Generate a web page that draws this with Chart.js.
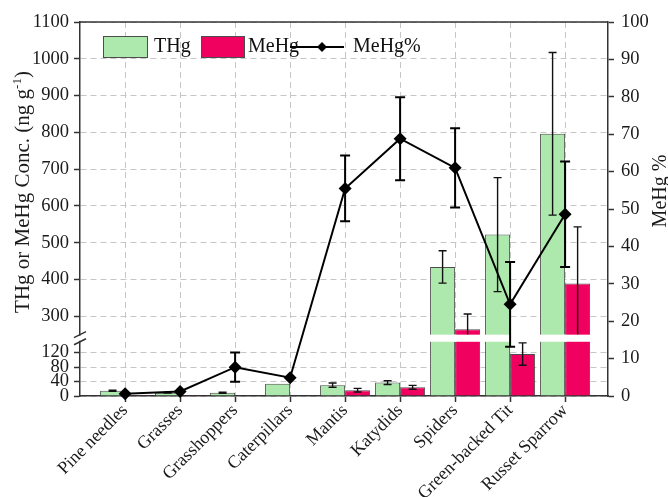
<!DOCTYPE html>
<html lang="en">
<head>
    <meta charset="UTF-8">
    <title>THg and MeHg along the food chain</title>
    <script src="https://cdn.jsdelivr.net/npm/chart.js"></script>
    <style>
        html, body {
            margin: 0;
            padding: 0;
            background: #fff;
        }
        canvas {
            display: block;
        }
    </style>
</head>
<body>
    <canvas id="hgChart" width="668" height="497"></canvas>
    <script>
        const categories = ['Pine needles', 'Grasses', 'Grasshoppers', 'Caterpillars', 'Mantis',
            'Katydids', 'Spiders', 'Green-backed Tit', 'Russet Sparrow'];

        // concentrations, ng g-1 (mean and SD)
        const thg = [14.5, 9, 9, 34, 30, 37, 434, 522, 796];
        const thgErr = [1.5, 0.5, 1.5, 0, 6, 5, 44, 155, 221];
        const mehg = [0.5, 0.5, 0.8, 2, 16, 24, 265, 116, 389];
        const mehgErr = [0, 0, 0, 0, 5, 5.5, 41, 31, 154];

        // MeHg as percent of THg
        const mehgPct = [0.6, 1.2, 7.7, 4.9, 55.5, 68.8, 61, 24.5, 48.6];
        const mehgPctErr = [0, 0, 3.9, 0, 8.8, 11.1, 10.6, 11.3, 14.1];

        const leftTicks = [0, 40, 80, 120, 300, 400, 500, 600, 700, 800, 900, 1000, 1100];

        // broken left axis: 0-150 below the break, 250-1100 above it
        const LOW_MAX = 150, HIGH_MIN = 250, TOP = 1100;
        const F_LOW = 0.145, F_GAP = 0.019, F_HIGH = 1 - F_LOW - F_GAP;

        function toDecimal(v) {
            if (v <= LOW_MAX) return v / LOW_MAX * F_LOW;
            if (v < HIGH_MIN) return F_LOW + (v - LOW_MAX) / (HIGH_MIN - LOW_MAX) * F_GAP;
            return F_LOW + F_GAP + (v - HIGH_MIN) / (TOP - HIGH_MIN) * F_HIGH;
        }

        function fromDecimal(d) {
            if (d <= F_LOW) return d / F_LOW * LOW_MAX;
            if (d < F_LOW + F_GAP) return LOW_MAX + (d - F_LOW) / F_GAP * (HIGH_MIN - LOW_MAX);
            return HIGH_MIN + (d - F_LOW - F_GAP) / F_HIGH * (TOP - HIGH_MIN);
        }

        class BrokenLinearScale extends Chart.LinearScale {
            static id = 'brokenLinear';
            getPixelForValue(value) {
                return value === null ? NaN : this.getPixelForDecimal(toDecimal(value));
            }
            getValueForPixel(pixel) {
                return fromDecimal(this.getDecimalForPixel(pixel));
            }
        }
        Chart.register(BrokenLinearScale);

        const SERIF = "'Liberation Serif', 'Times New Roman', serif";
        const GREEN = '#ade9ad';
        const PINK = '#f0005f';
        const EDGE = '#4d4d4d';
        const AXIS = '#333';
        const GRID = '#c6c6c6';

        Chart.defaults.font.family = SERIF;
        Chart.defaults.font.size = 18.5;
        Chart.defaults.color = '#1a1a1a';

        function whisker(ctx, x, yTop, yBot, cap) {
            ctx.beginPath();
            ctx.moveTo(x, yTop);
            ctx.lineTo(x, yBot);
            ctx.moveTo(x - cap, yTop);
            ctx.lineTo(x + cap, yTop);
            ctx.moveTo(x - cap, yBot);
            ctx.lineTo(x + cap, yBot);
            ctx.stroke();
        }

        function drawBarErrors(chart, dsIndex, values, errs) {
            const ctx = chart.ctx;
            const y = chart.scales.y;
            const meta = chart.getDatasetMeta(dsIndex);
            ctx.save();
            ctx.strokeStyle = '#111';
            ctx.lineWidth = 1.4;
            meta.data.forEach((bar, i) => {
                if (!errs[i]) return;
                whisker(ctx, bar.x, y.getPixelForValue(values[i] + errs[i]),
                    y.getPixelForValue(Math.max(values[i] - errs[i], 0)), 4);
            });
            ctx.restore();
        }

        // white band across the bars where the left axis is broken
        function drawBreakBand(chart) {
            const ctx = chart.ctx;
            const y = chart.scales.y;
            const yTop = y.getPixelForValue(HIGH_MIN);
            const yBot = y.getPixelForValue(LOW_MAX);
            ctx.save();
            ctx.fillStyle = '#fff';
            [0, 1].forEach(ds => {
                const vals = ds === 0 ? thg : mehg;
                chart.getDatasetMeta(ds).data.forEach((bar, i) => {
                    if (vals[i] <= LOW_MAX) return;
                    ctx.fillRect(bar.x - bar.width / 2 - 1, yTop, bar.width + 2, yBot - yTop);
                });
            });
            ctx.restore();
        }

        const overlay = {
            id: 'overlay',
            beforeDatasetDraw(chart, args) {
                if (args.meta.type !== 'line') return;
                drawBarErrors(chart, 0, thg, thgErr);
                drawBarErrors(chart, 1, mehg, mehgErr);
                drawBreakBand(chart);
            },
            afterDatasetsDraw(chart) {
                const ctx = chart.ctx;
                const y1 = chart.scales.y1;
                const meta = chart.getDatasetMeta(2);
                ctx.save();
                ctx.strokeStyle = '#000';
                ctx.lineWidth = 2;
                meta.data.forEach((pt, i) => {
                    if (!mehgPctErr[i]) return;
                    whisker(ctx, pt.x, y1.getPixelForValue(mehgPct[i] + mehgPctErr[i]),
                        y1.getPixelForValue(mehgPct[i] - mehgPctErr[i]), 5);
                });
                ctx.restore();
            },
            afterDraw(chart) {
                const ctx = chart.ctx;
                const { left, right, top } = chart.chartArea;
                const y = chart.scales.y;
                ctx.save();

                // top frame line
                ctx.strokeStyle = AXIS;
                ctx.lineWidth = 1.5;
                ctx.beginPath();
                ctx.moveTo(left, top);
                ctx.lineTo(right, top);
                ctx.stroke();

                // axis break marks
                const gTop = y.getPixelForValue(HIGH_MIN);
                const gBot = y.getPixelForValue(LOW_MAX);
                ctx.fillStyle = '#fff';
                ctx.fillRect(left - 2, gTop + 1, 4, gBot - gTop - 2);
                ctx.beginPath();
                ctx.moveTo(left - 6, gTop + 3);
                ctx.lineTo(left + 6, gTop - 3);
                ctx.moveTo(left - 6, gBot + 3);
                ctx.lineTo(left + 6, gBot - 3);
                ctx.stroke();

                // legend
                ctx.font = '20px ' + SERIF;
                ctx.textBaseline = 'middle';
                ctx.textAlign = 'left';
                ctx.lineWidth = 1;
                ctx.strokeStyle = EDGE;
                const ly = 47;
                ctx.fillStyle = GREEN;
                ctx.fillRect(103.5, 36.5, 44, 21);
                ctx.strokeRect(103.5, 36.5, 44, 21);
                ctx.fillStyle = PINK;
                ctx.fillRect(201.5, 36.5, 43, 21);
                ctx.strokeRect(201.5, 36.5, 43, 21);
                ctx.fillStyle = '#111';
                ctx.fillText('THg', 154, ly);
                ctx.fillText('MeHg', 248, ly);
                ctx.fillText('MeHg%', 353, ly);
                ctx.strokeStyle = '#000';
                ctx.lineWidth = 2;
                ctx.beginPath();
                ctx.moveTo(290, ly);
                ctx.lineTo(344, ly);
                ctx.stroke();
                ctx.beginPath();
                ctx.moveTo(322 - 5, ly);
                ctx.lineTo(322, ly - 5);
                ctx.lineTo(322 + 5, ly);
                ctx.lineTo(322, ly + 5);
                ctx.closePath();
                ctx.fillStyle = '#000';
                ctx.fill();

                // axis titles
                ctx.fillStyle = '#1a1a1a';
                ctx.textBaseline = 'alphabetic';
                ctx.save();
                ctx.translate(29, 192);
                ctx.rotate(-Math.PI / 2);
                const main = 'THg or MeHg Conc. (ng g', sup = '-1', tail = ')';
                ctx.font = '21px ' + SERIF;
                const w1 = ctx.measureText(main).width;
                const w3 = ctx.measureText(tail).width;
                ctx.font = '13px ' + SERIF;
                const w2 = ctx.measureText(sup).width;
                const x0 = -(w1 + w2 + w3) / 2;
                ctx.font = '21px ' + SERIF;
                ctx.fillText(main, x0, 0);
                ctx.fillText(tail, x0 + w1 + w2, 0);
                ctx.font = '13px ' + SERIF;
                ctx.fillText(sup, x0 + w1, -8);
                ctx.restore();

                ctx.save();
                ctx.translate(666, 191);
                ctx.rotate(-Math.PI / 2);
                ctx.font = '20px ' + SERIF;
                ctx.textAlign = 'center';
                ctx.fillText('MeHg %', 0, 0);
                ctx.restore();

                ctx.restore();
            }
        };

        const idx = categories.map((_, i) => i);

        new Chart(document.getElementById('hgChart'), {
            data: {
                datasets: [
                    {
                        type: 'bar',
                        label: 'THg',
                        data: thg.map((v, i) => ({ x: i, y: v })),
                        backgroundColor: GREEN,
                        borderColor: EDGE,
                        borderWidth: 1,
                        categoryPercentage: 0.91,
                        barPercentage: 1,
                        yAxisID: 'y',
                        order: 1
                    },
                    {
                        type: 'bar',
                        label: 'MeHg',
                        data: mehg.map((v, i) => ({ x: i, y: v })),
                        backgroundColor: PINK,
                        borderColor: EDGE,
                        borderWidth: 1,
                        categoryPercentage: 0.91,
                        barPercentage: 1,
                        yAxisID: 'y',
                        order: 1
                    },
                    {
                        type: 'line',
                        label: 'MeHg%',
                        data: mehgPct.map((v, i) => ({ x: i, y: v })),
                        borderColor: '#000',
                        backgroundColor: '#000',
                        borderWidth: 2,
                        pointStyle: 'rectRot',
                        pointRadius: 6.5,
                        pointBorderWidth: 0,
                        tension: 0,
                        clip: false,
                        yAxisID: 'y1',
                        order: 0
                    }
                ]
            },
            options: {
                responsive: false,
                animation: false,
                events: [],
                layout: { padding: { top: 22, left: 0, right: 0, bottom: 0 } },
                plugins: {
                    legend: { display: false },
                    tooltip: { enabled: false }
                },
                scales: {
                    x: {
                        type: 'linear',
                        min: -0.82,
                        max: 8.78,
                        offset: false,
                        bounds: 'data',
                        afterBuildTicks: s => { s.ticks = idx.map(v => ({ value: v })); },
                        afterFit: s => { s.height = 101; s.paddingLeft = 0; s.paddingRight = 0; },
                        grid: {
                            offset: false,
                            color: GRID,
                            lineWidth: 1,
                            tickLength: 6,
                            tickColor: AXIS,
                            tickWidth: 1.5
                        },
                        border: { color: AXIS, width: 1.5, dash: [6, 4] },
                        ticks: {
                            autoSkip: false,
                            minRotation: 45,
                            maxRotation: 45,
                            padding: -2,
                            font: { size: 18 },
                            callback: v => categories[v]
                        }
                    },
                    y: {
                        type: 'brokenLinear',
                        position: 'left',
                        min: 0,
                        max: TOP,
                        afterBuildTicks: s => { s.ticks = leftTicks.map(v => ({ value: v })); },
                        afterFit: s => { s.width = 80; s.paddingTop = 0; s.paddingBottom = 0; },
                        grid: {
                            color: GRID,
                            lineWidth: 1,
                            tickLength: 6,
                            tickColor: AXIS,
                            tickWidth: 1.5
                        },
                        border: { color: AXIS, width: 1.5, dash: [6, 4] },
                        ticks: {
                            autoSkip: false,
                            padding: 5,
                            callback: v => String(v)
                        }
                    },
                    y1: {
                        type: 'linear',
                        position: 'right',
                        min: 0,
                        max: 100,
                        afterFit: s => { s.width = 60; s.paddingTop = 0; s.paddingBottom = 0; },
                        grid: {
                            drawOnChartArea: false,
                            tickLength: 6,
                            tickColor: AXIS,
                            tickWidth: 1.5
                        },
                        border: { color: AXIS, width: 1.5 },
                        ticks: {
                            stepSize: 10,
                            autoSkip: false,
                            padding: 7,
                            callback: v => String(v)
                        }
                    }
                }
            },
            plugins: [overlay]
        });
    </script>
</body>
</html>
